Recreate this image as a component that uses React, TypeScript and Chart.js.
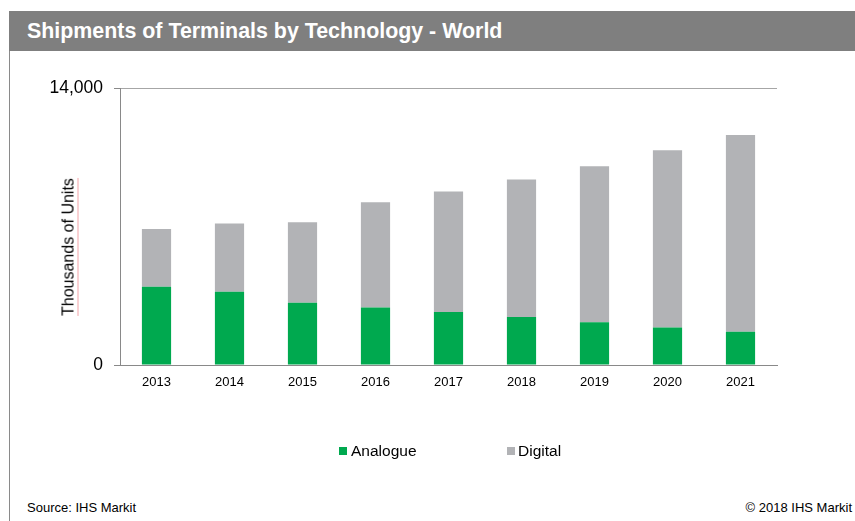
import React, { useEffect, useRef } from "react";
import { Chart, registerables } from "chart.js";

Chart.register(...registerables);

const years = ["2013", "2014", "2015", "2016", "2017", "2018", "2019", "2020", "2021"];
const analogue = [3950, 3700, 3150, 2900, 2680, 2420, 2160, 1900, 1680];
const digital = [2920, 3450, 4070, 5320, 6090, 6960, 7890, 8960, 9950];
const yTicks = [0, 14000];

const FONT = "'Liberation Sans', Arial, Helvetica, sans-serif";
const GREEN = "#00a94f";
const GREY = "#b2b3b6";

export default function App() {
  const ref = useRef<HTMLCanvasElement | null>(null);

  useEffect(() => {
    if (!ref.current) return;
    const chart = new Chart(ref.current, {
      type: "bar",
      data: {
        labels: years,
        datasets: [
          { label: "Analogue", data: analogue, backgroundColor: GREEN, barPercentage: 0.4, categoryPercentage: 1 },
          { label: "Digital", data: digital, backgroundColor: GREY, barPercentage: 0.4, categoryPercentage: 1 },
        ],
      },
      options: {
        responsive: false,
        animation: false,
        layout: { padding: { top: 37, right: 78, bottom: 66, left: 0 } },
        plugins: { legend: { display: false }, tooltip: { enabled: false } },
        scales: {
          x: {
            stacked: true,
            grid: { display: false },
            border: { display: true, color: "#898989", width: 1 },
            ticks: { color: "#000", font: { family: FONT, size: 13 }, padding: 2, maxRotation: 0 },
            afterFit: (s: any) => { s.height = 40; },
          },
          y: {
            stacked: true,
            min: yTicks[0],
            max: yTicks[yTicks.length - 1],
            afterBuildTicks: (s: any) => { s.ticks = yTicks.map((v) => ({ value: v })); },
            ticks: {
              color: "#000",
              font: { family: FONT, size: 17.5 },
              padding: 11,
              callback: (v: any) => Number(v).toLocaleString("en-US"),
            },
            grid: {
              color: (c: any) => (c.tick && c.tick.value === 0 ? "#898989" : "#a6a6a6"),
              tickLength: 6,
              tickColor: "#898989",
            },
            border: { display: true, color: "#898989", width: 1 },
            afterFit: (s: any) => { s.width = 110; },
          },
        },
      },
    });
    return () => chart.destroy();
  }, []);

  return (
    <div style={{ position: "fixed", left: 0, top: 0, width: 855, height: 521, background: "#fff", fontFamily: FONT, overflow: "hidden" }}>
      <div style={{ position: "absolute", left: 9, top: 11, width: 846, height: 40, background: "#7f7f7f" }} />
      <div style={{ position: "absolute", left: 27, top: 11, height: 40, lineHeight: "40px", color: "#fff", fontWeight: "bold", fontSize: 21.4, whiteSpace: "nowrap" }}>
        Shipments of Terminals by Technology - World
      </div>
      <div style={{ position: "absolute", left: 9, top: 51, width: 1, height: 470, background: "#8a8a8a" }} />
      <canvas ref={ref} width={845} height={420} style={{ position: "absolute", left: 10, top: 51, width: 845, height: 420 }} />
      <div style={{ position: "absolute", left: 69, top: 247, width: 0, height: 0 }}>
        <div style={{ position: "absolute", left: 0, top: 0, transform: "translate(-50%, -50%) rotate(-90deg)", whiteSpace: "nowrap", fontSize: 16, color: "#000", lineHeight: "18px", borderBottom: "1px solid #f3a3a8" }}>
          Thousands of Units
        </div>
      </div>
      <div style={{ position: "absolute", left: 339, top: 441, height: 20, display: "flex", alignItems: "center", fontSize: 15.5, color: "#000", whiteSpace: "nowrap" }}>
        <span style={{ display: "inline-block", width: 8, height: 8, background: GREEN, marginRight: 4 }} />
        Analogue
      </div>
      <div style={{ position: "absolute", left: 507, top: 441, height: 20, display: "flex", alignItems: "center", fontSize: 15.5, color: "#000", whiteSpace: "nowrap" }}>
        <span style={{ display: "inline-block", width: 8, height: 8, background: GREY, marginRight: 3 }} />
        Digital
      </div>
      <div style={{ position: "absolute", left: 27, top: 500, fontSize: 13, color: "#000", lineHeight: "16px", whiteSpace: "nowrap" }}>Source: IHS Markit</div>
      <div style={{ position: "absolute", right: 3, top: 500, fontSize: 13, color: "#000", lineHeight: "16px", whiteSpace: "nowrap" }}>© 2018 IHS Markit</div>
    </div>
  );
}
